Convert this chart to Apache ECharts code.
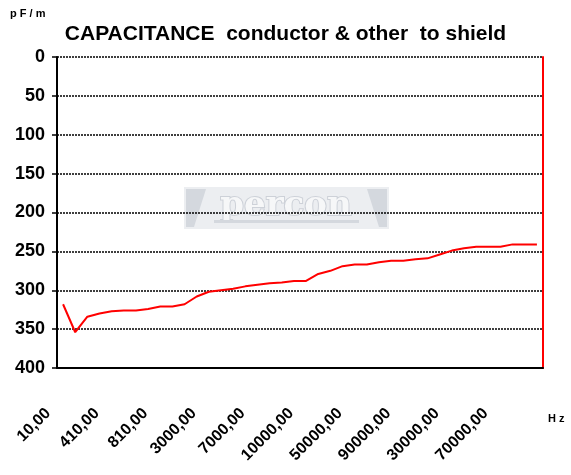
<!DOCTYPE html>
<html>
<head>
<meta charset="utf-8">
<script src="https://cdn.jsdelivr.net/npm/echarts@6/dist/echarts.min.js"></script>
<style>
  html, body { margin: 0; padding: 0; background: #fff; }
  #chart { width: 571px; height: 475px; }
</style>
</head>
<body>
<div id="chart"></div>
<script>
// frequency categories (only every 4th label is shown on the axis)
const freqs = [
  '10,00', '110,00', '210,00', '310,00',
  '410,00', '510,00', '610,00', '710,00',
  '810,00', '910,00', '1000,00', '2000,00',
  '3000,00', '4000,00', '5000,00', '6000,00',
  '7000,00', '8000,00', '9000,00', '9500,00',
  '10000,00', '20000,00', '30000,00', '40000,00',
  '50000,00', '60000,00', '70000,00', '80000,00',
  '90000,00', '100000,00', '10000,00', '20000,00',
  '30000,00', '40000,00', '50000,00', '60000,00',
  '70000,00', '80000,00', '90000,00', '100000,00'
]
// capacitance, pF/m
const capacitance = [
  318, 354, 334, 330, 327, 326, 326, 324, 321, 321,
  318, 308, 302, 300, 298, 295, 293, 291, 290, 288,
  288, 279, 275, 269, 267, 267, 264, 262, 262, 260,
  259, 254, 249, 246, 244, 244, 244, 241, 241, 241
]
const yTicks = { min: 0, max: 400, step: 50 }

const font = '"Liberation Sans", Arial, sans-serif'
const chart = echarts.init(document.getElementById('chart'))

chart.setOption({
  animation: false,
  textStyle: { fontFamily: font },
  title: {
    text: 'CAPACITANCE  conductor & other  to shield',
    left: 'center',
    top: 19,
    textStyle: { fontSize: 21, fontWeight: 'bold', color: '#000', fontFamily: font }
  },
  graphic: [
    {
      type: 'text', left: 10, top: 8,
      style: { text: 'p F / m', font: 'bold 11px ' + font, fill: '#000' }
    },
    {
      type: 'text', left: 548, top: 413,
      style: { text: 'H z', font: 'bold 11px ' + font, fill: '#000' }
    },
    {
      type: 'group', left: 184, top: 187, silent: true,
      children: [
        { type: 'rect', shape: { x: 0, y: 0, width: 205, height: 42 }, style: { fill: '#eceef1' } },
        { type: 'polygon', shape: { points: [[2, 2], [22, 2], [10, 40], [2, 40]] }, style: { fill: '#d4d8de' } },
        { type: 'polygon', shape: { points: [[203, 2], [183, 2], [195, 40], [203, 40]] }, style: { fill: '#d4d8de' } },
        { type: 'text', style: { x: 102, y: 2, text: 'percon', align: 'center', font: 'bold 34px "DejaVu Serif", serif', fill: '#f6f7f8', stroke: '#cdd1d8', lineWidth: 2 } },
        { type: 'rect', shape: { x: 30, y: 33, width: 145, height: 3 }, style: { fill: '#d4d8de' } }
      ]
    }
  ],
  grid: { left: 57, right: 28, top: 57, bottom: 107 },
  xAxis: {
    type: 'category',
    data: freqs,
    boundaryGap: true,
    axisLine: { onZero: false, lineStyle: { color: '#000', width: 2 } },
    axisTick: { interval: 0, length: 5, lineStyle: { color: '#000', width: 1.5 } },
    axisLabel: {
      interval: 3,
      rotate: 45,
      margin: 28,
      padding: [0, 21, 0, 0],
      fontSize: 16,
      fontWeight: 'bold',
      color: '#000',
      fontFamily: font
    },
    splitLine: { show: false }
  },
  yAxis: [
    {
      type: 'value',
      inverse: true,
      min: yTicks.min,
      max: yTicks.max,
      interval: yTicks.step,
      axisLine: { show: true, lineStyle: { color: '#000', width: 2 } },
      axisTick: { show: true, length: 5, lineStyle: { color: '#000', width: 1.5 } },
      axisLabel: { fontSize: 18, fontWeight: 'bold', color: '#000', margin: 12, fontFamily: font },
      splitLine: { lineStyle: { color: '#000', type: [2, 1], width: 1.5 } }
    },
    {
      type: 'value',
      position: 'right',
      inverse: true,
      min: yTicks.min,
      max: yTicks.max,
      interval: yTicks.step,
      axisLine: { show: true, lineStyle: { color: '#ff0000', width: 2 } },
      axisTick: { show: false },
      axisLabel: { show: false },
      splitLine: { show: false }
    }
  ],
  series: [{
    type: 'line',
    data: capacitance,
    symbol: 'none',
    lineStyle: { color: '#ff0000', width: 2 },
    z: 5
  }]
})
</script>
</body>
</html>
